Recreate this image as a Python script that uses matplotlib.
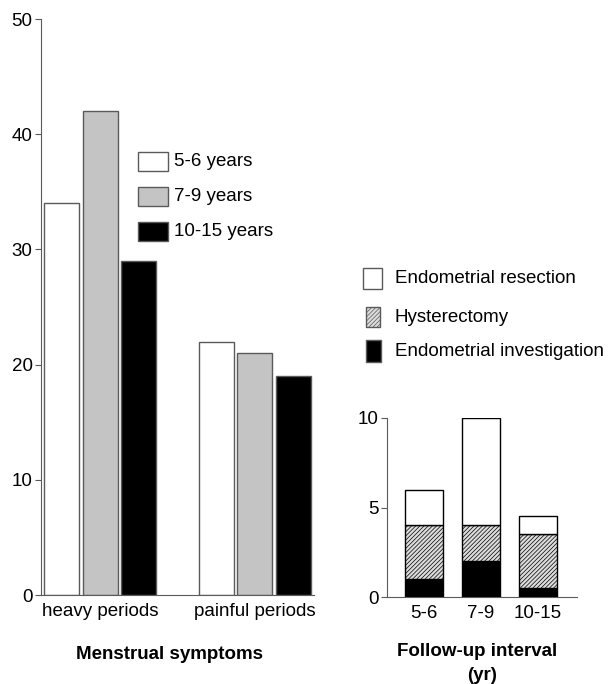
import matplotlib
matplotlib.use("Agg")
import matplotlib.pyplot as plt
from matplotlib.patches import Rectangle
import numpy as np

plt.rcParams["font.family"] = ["Liberation Sans", "DejaVu Sans"]
plt.rcParams["hatch.color"] = "#7a7a7a"
plt.rcParams["hatch.linewidth"] = 0.5

# dati grafico sinistro
sintomi = ["heavy periods", "painful periods"]
gruppi_eta = ["5-6 years", "7-9 years", "10-15 years"]
valori_5_6 = [34, 22]
valori_7_9 = [42, 21]
valori_10_15 = [29, 19]

# dati grafico destro (barre impilate)
intervalli = ["5-6", "7-9", "10-15"]
investigazione = [1, 2, 0.5]
isterectomia = [3, 2, 3]
resezione = [2, 6, 1]
voci_legenda = ["Endometrial resection", "Hysterectomy", "Endometrial investigation"]

grigio_bordo = "#5a5a5a"
fs = 13.5
tratteggio_fitto = "////////"

fig = plt.figure(figsize=(6.08, 6.84), dpi=100)

# grafico sinistro
ax1 = fig.add_axes([41 / 608, 1 - 595 / 684, (314 - 41) / 608, (595 - 19) / 684])
x = np.arange(len(sintomi))
passo = 0.25
larghezza = 0.227
colori = ["white", "#c4c4c4", "black"]
for i, serie in enumerate([valori_5_6, valori_7_9, valori_10_15]):
    ax1.bar(x + (i - 1) * passo, serie, width=larghezza, color=colori[i],
            edgecolor=grigio_bordo, linewidth=1)
ax1.set_xlim(-0.386, 1.386)
ax1.set_ylim(0, 50)
ax1.set_yticks([0, 10, 20, 30, 40, 50])
ax1.set_xticks(x)
ax1.set_xticklabels(sintomi, fontsize=fs)
ax1.set_xlabel("Menstrual symptoms", fontsize=fs, fontweight="bold")
ax1.xaxis.set_label_coords(0.4725, -0.088)

# grafico destro
ax2 = fig.add_axes([387 / 608, 1 - 597 / 684, (577 - 387) / 608, (597 - 418) / 684])
x2 = np.arange(len(intervalli))
base_res = np.array(investigazione) + np.array(isterectomia)
ax2.bar(x2, investigazione, width=0.667, color="black", edgecolor="black", linewidth=1)
ax2.bar(x2, isterectomia, bottom=investigazione, width=0.667, color="#dcdcdc",
        edgecolor="black", linewidth=1, hatch=tratteggio_fitto)
ax2.bar(x2, resezione, bottom=base_res, width=0.667, color="white",
        edgecolor="black", linewidth=1)
ax2.set_xlim(-0.649, 2.684)
ax2.set_ylim(0, 10)
ax2.set_yticks([0, 5, 10])
ax2.set_xticks(x2)
ax2.set_xticklabels(intervalli, fontsize=fs)

for ax in (ax1, ax2):
    ax.spines["top"].set_visible(False)
    ax.spines["right"].set_visible(False)
    ax.spines["left"].set_color(grigio_bordo)
    ax.spines["bottom"].set_color(grigio_bordo)
    ax.tick_params(axis="y", labelsize=fs, length=4, color=grigio_bordo, pad=2)
    ax.tick_params(axis="x", length=0, pad=6)

fig.text(477 / 608, 1 - 652 / 684, "Follow-up interval", fontsize=fs,
         fontweight="bold", ha="center", va="center")
fig.text(482 / 608, 1 - 675 / 684, "(yr)", fontsize=fs,
         fontweight="bold", ha="center", va="center")

# legenda sinistra
for i, (etichetta, colore) in enumerate(zip(gruppi_eta, colori)):
    y0 = 152 + i * 35
    fig.add_artist(Rectangle((138 / 608, 1 - (y0 + 19) / 684), 30 / 608, 19 / 684,
                             transform=fig.transFigure, facecolor=colore,
                             edgecolor=grigio_bordo, linewidth=1))
    fig.text(174 / 608, 1 - (y0 + 9.5) / 684, etichetta, fontsize=fs, va="center")

# legenda destra
box_destra = [(363, 268, 19, 21, "white", None),
              (366, 307, 14, 20, "#dcdcdc", tratteggio_fitto),
              (366, 340, 15, 22, "black", None)]
for (bx, by, bw, bh, colore, tratteggio), etichetta in zip(box_destra, voci_legenda):
    fig.add_artist(Rectangle((bx / 608, 1 - (by + bh) / 684), bw / 608, bh / 684,
                             transform=fig.transFigure, facecolor=colore,
                             edgecolor=grigio_bordo, linewidth=1, hatch=tratteggio))
    fig.text(395 / 608, 1 - (by + bh / 2) / 684, etichetta, fontsize=fs, va="center")

fig.savefig("out.png", dpi=100)
